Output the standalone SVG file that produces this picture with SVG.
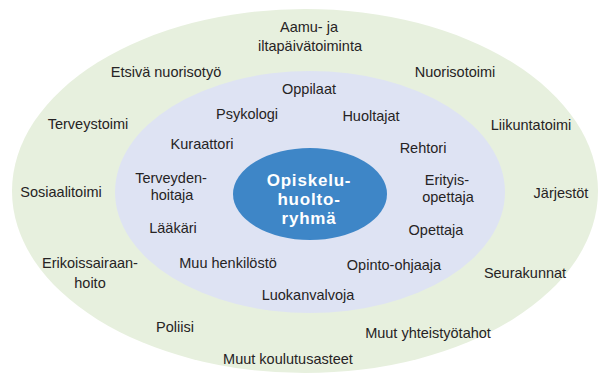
<svg xmlns="http://www.w3.org/2000/svg" width="599" height="383" viewBox="0 0 599 383">
<style>
text{font-family:"Liberation Sans",Arial,sans-serif;font-size:14.5px;fill:#262324;text-anchor:middle}
.c{font-size:17px;font-weight:bold;fill:#ffffff;letter-spacing:0.8px}
</style>
<rect width="599" height="383" fill="#ffffff"/>
<g id="outer">
<ellipse cx="305" cy="191" rx="293" ry="182" fill="#e7f0de"/>
</g>
<g id="inner">
<ellipse cx="310" cy="192" rx="195" ry="121" fill="#dee3f3"/>
</g>
<g id="core">
<ellipse cx="310" cy="194" rx="77" ry="46" fill="#3e86c7"/>
<text class="c" x="309" y="186">Opiskelu-</text>
<text class="c" x="309" y="205">huolto-</text>
<text class="c" x="309" y="224">ryhmä</text>
</g>
<g id="aamu"><text x="309" y="32">Aamu- ja</text><text x="310" y="51">iltapäivätoiminta</text></g>
<g id="etsiva"><text x="166" y="77">Etsivä nuorisotyö</text></g>
<g id="nuorisotoimi"><text x="455" y="77">Nuorisotoimi</text></g>
<g id="terveystoimi"><text x="88" y="129">Terveystoimi</text></g>
<g id="liikuntatoimi"><text x="531" y="130">Liikuntatoimi</text></g>
<g id="sosiaalitoimi"><text x="61" y="197">Sosiaalitoimi</text></g>
<g id="jarjestot"><text x="561" y="198">Järjestöt</text></g>
<g id="erikoissairaanhoito"><text x="90" y="268">Erikoissairaan-</text><text x="90" y="288">hoito</text></g>
<g id="seurakunnat"><text x="525" y="278">Seurakunnat</text></g>
<g id="poliisi"><text x="175" y="332">Poliisi</text></g>
<g id="muut-yhteistyotahot"><text x="428" y="338">Muut yhteistyötahot</text></g>
<g id="muut-koulutusasteet"><text x="288" y="364">Muut koulutusasteet</text></g>
<g id="oppilaat"><text x="309" y="94">Oppilaat</text></g>
<g id="psykologi"><text x="247" y="119">Psykologi</text></g>
<g id="huoltajat"><text x="371" y="121">Huoltajat</text></g>
<g id="kuraattori"><text x="202" y="149">Kuraattori</text></g>
<g id="rehtori"><text x="423" y="153">Rehtori</text></g>
<g id="terveydenhoitaja"><text x="171" y="183">Terveyden-</text><text x="172" y="200">hoitaja</text></g>
<g id="erityisopettaja"><text x="447" y="185">Erityis-</text><text x="448" y="202">opettaja</text></g>
<g id="laakari"><text x="173" y="233">Lääkäri</text></g>
<g id="opettaja"><text x="436" y="235">Opettaja</text></g>
<g id="muu-henkilosto"><text x="228" y="268">Muu henkilöstö</text></g>
<g id="opinto-ohjaaja"><text x="394" y="270">Opinto-ohjaaja</text></g>
<g id="luokanvalvoja"><text x="308" y="300">Luokanvalvoja</text></g>
</svg>
